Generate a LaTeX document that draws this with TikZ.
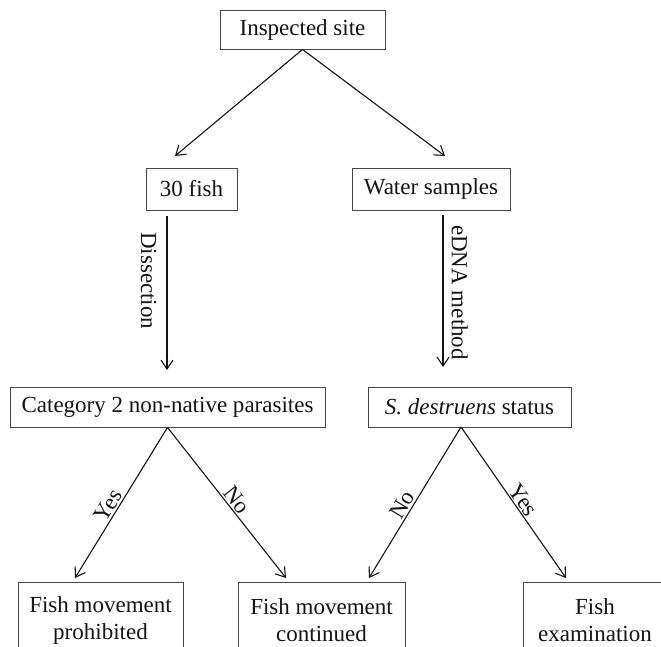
\documentclass[tikz,border=0pt]{standalone}
\usepackage{fontspec}
\setmainfont{Liberation Serif}
\usetikzlibrary{arrows.meta,calc}
\definecolor{boxgray}{RGB}{70,70,70}
\definecolor{inkc}{RGB}{20,20,20}
\begin{document}
\begin{tikzpicture}[x=1pt,y=-1pt,
  box/.style={draw=boxgray, line width=0.9pt, inner sep=0pt, align=center,
    font=\fontsize{23}{27}\selectfont, text=inkc},
  arr/.style={draw=inkc, line width=1.1pt,
    -{Straight Barb[length=9pt,width=12pt,line width=1.1pt]}},
  lab/.style={font=\fontsize{23}{27}\selectfont, text=inkc, inner sep=1.5pt}]
\useasboundingbox (0,0) rectangle (661,646);
\clip (0,0) rectangle (661,646);
\fill[white] (0,0) rectangle (661,646);

\node[box, minimum width=165pt, minimum height=39pt] (site) at (302.5,29.5) {Inspected site};
\node[box, minimum width=91pt, minimum height=42pt] (fish) at (191.5,189) {30 fish};
\node[box, minimum width=158pt, minimum height=42pt] (water) at (431,189) {Water samples};
\node[box, minimum width=315pt, minimum height=40pt] (cat) at (167.5,407) {Category 2 non-native parasites};
\node[box, minimum width=203pt, minimum height=40pt] (sd) at (469.5,407) {\textit{S. destruens} status};
\node[box, anchor=north, minimum width=165pt, minimum height=76pt] (b1) at (100.5,582) {Fish movement\\prohibited};
\node[box, anchor=north, minimum width=167pt, minimum height=76pt] (b2) at (321.5,582) {Fish movement\\continued};
\node[box, anchor=north, minimum width=144pt, minimum height=76pt] (b3) at (595,582) {Fish\\examination};

\coordinate (t1) at (175,156);
\coordinate (t2) at (445,156);
\coordinate (d1) at (167,216);
\coordinate (d2) at (167,370);
\coordinate (e1) at (443,215);
\coordinate (e2) at (443,367);
\coordinate (sdapex) at (461,427);
\coordinate (tA) at (75,578);
\coordinate (tB) at (286,578);
\coordinate (tC) at (369,578);
\coordinate (tD) at (566,578);

\draw[arr] (site.south) -- (t1);
\draw[arr] (site.south) -- (t2);
\draw[arr] (d1) -- (d2) node[lab, pos=0.42, rotate=-90, anchor=north, inner ysep=10pt] {Dissection};
\draw[arr] (e1) -- (e2) node[lab, pos=0.51, rotate=-90, anchor=south, inner ysep=8pt] {eDNA method};
\draw[arr] (cat.south) -- (tA) node[lab, pos=0.55, sloped, above] {Yes};
\draw[arr] (cat.south) -- (tB) node[lab, pos=0.52, sloped, above] {No};
\draw[arr] (sdapex) -- (tC) node[lab, pos=0.55, sloped, above] {No};
\draw[arr] (sdapex) -- (tD) node[lab, pos=0.52, sloped, above] {Yes};
\end{tikzpicture}
\end{document}
